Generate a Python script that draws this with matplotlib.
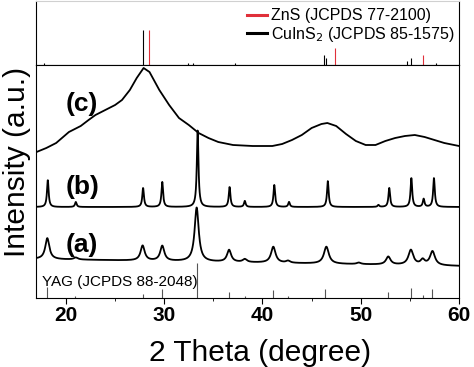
import numpy as np
import matplotlib
matplotlib.use("Agg")
import matplotlib.pyplot as plt
from matplotlib.ticker import MultipleLocator

plt.rcParams['font.family'] = ['Liberation Sans', 'DejaVu Sans']

# reference lines (top panel)
cuins2_pos = [17.8, 27.8, 32.4, 32.9, 37.2, 46.3, 46.45, 54.7, 55.1, 57.7]
cuins2_h = [2, 35, 2, 2, 1.5, 10, 7, 4, 7, 2]
zns_pos = [28.5, 47.4, 56.3]
zns_h = [35, 17, 10]

# YAG reference lines (bottom of main panel)
yag_pos = [18.1, 20.9, 27.8, 29.8, 33.3, 36.6, 38.2, 41.1, 42.6, 46.4, 52.8, 55.1, 56.3, 57.3]
yag_h = [11, 2, 4, 9, 35, 6, 2, 8, 2, 9, 6, 10, 3, 9]

# pattern (a): peaks
a_pos = [18.1, 21.0, 27.8, 29.8, 33.3, 36.6, 38.2, 41.1, 42.6, 46.5, 49.8, 52.8, 55.1, 56.3, 57.3]
a_h = [21, 2, 15, 15, 54, 12, 3, 16, 2, 17, 1.5, 8, 15, 5, 14]
a_w = [0.5, 0.5, 0.5, 0.5, 0.5, 0.5, 0.5, 0.55, 0.5, 0.6, 0.5, 0.55, 0.6, 0.5, 0.6]
a_base = (39, 32)

# pattern (b)
b_pos = [18.15, 21.0, 27.85, 29.8, 33.4, 36.65, 38.2, 41.2, 42.7, 46.65, 51.8, 52.9, 55.15, 56.4, 57.45]
b_h = [27, 5, 19, 25, 77, 20, 6, 22, 5, 26, 2, 19, 29, 8, 29]
b_w = [0.2] * 15
b_base = (91, 91)

# pattern (c): traced points
c_x = [17.0, 18.0, 19.0, 20.3, 21.5, 22.3, 23.0, 24.0, 25.0, 25.7, 26.5, 27.2, 27.9,
       28.5, 29.5, 30.5, 31.5, 32.5, 33.5, 34.5, 35.5, 37.0, 39.0, 41.0, 42.0, 43.0,
       44.0, 45.0, 46.0, 46.6, 47.5, 48.5, 49.5, 50.5, 51.5, 52.5, 53.5, 54.5, 55.5,
       56.5, 57.5, 58.5, 59.5, 60.0]
c_y = [146, 150, 155, 166, 172, 178, 183, 188, 193, 198, 208, 220, 230,
       226, 208, 193, 180, 173, 165, 160, 156, 153, 152, 152, 154, 158,
       163, 170, 174, 175, 172, 164, 157, 153, 153, 157, 160, 162, 163,
       161, 158, 155, 153, 152]

x = np.linspace(17, 60, 2000)


def pattern(pos, h, w, base):
    y = base[0] + (base[1] - base[0]) * (x - 17) / 43
    for p, hh, ww in zip(pos, h, w):
        y = y + hh / (1 + ((x - p) / (ww / 2)) ** 2)
    return y


fig = plt.figure(figsize=(4.74, 3.67), dpi=100)
ax_top = fig.add_axes([0.077, 0.8229, 0.8914, 0.1744])
ax = fig.add_axes([0.077, 0.188, 0.8914, 0.6349])

# top panel
ax_top.vlines(cuins2_pos, 0, cuins2_h, color='black', lw=0.8)
ax_top.vlines(zns_pos, 0, zns_h, color='#e0303a', lw=0.8)
ax_top.plot([], [], color='#e0303a', lw=2.2, label='ZnS (JCPDS 77-2100)')
ax_top.plot([], [], color='black', lw=2.2, label='CuInS$_2$ (JCPDS 85-1575)')
ax_top.legend(loc='upper right', bbox_to_anchor=(1.0, 0.96), frameon=False,
              fontsize=11.5, handlelength=1.3, handletextpad=0.2,
              labelspacing=0.1, borderaxespad=0.1, borderpad=0.2)
ax_top.set_xlim(17, 60)
ax_top.set_ylim(0, 64)
ax_top.set_xticks([])
ax_top.set_yticks([])
ax_top.spines['top'].set_color('#d0d0d0')

# main panel
ax.plot(x, pattern(a_pos, a_h, a_w, a_base), color='black', lw=1.3)
ax.plot(x, pattern(b_pos, b_h, b_w, b_base), color='black', lw=1.3)
ax.plot(c_x, c_y, color='black', lw=1.3)
ax.vlines(yag_pos, 0, yag_h, color='#555555', lw=0.8)

ax.text(20.0, 194, '(c)', fontsize=19, fontweight='bold', va='center')
ax.text(20.0, 111, '(b)', fontsize=19, fontweight='bold', va='center')
ax.text(20.0, 53, '(a)', fontsize=19, fontweight='bold', va='center')
ax.text(17.55, 16, 'YAG (JCPDS 88-2048)', fontsize=11, va='center')

ax.set_xlim(17, 60)
ax.set_ylim(0, 233)
ax.set_yticks([])
ax.xaxis.set_major_locator(MultipleLocator(10))
ax.xaxis.set_minor_locator(MultipleLocator(5))
ax.tick_params(axis='x', which='major', length=4, labelsize=15, pad=2)
ax.tick_params(axis='x', which='minor', length=2)
for lab in ax.get_xticklabels():
    lab.set_fontweight('bold')
ax.set_xlabel('2 Theta (degree)', fontsize=21.5)
ax.xaxis.set_label_coords(0.529, -0.175)
ax.set_ylabel('Intensity (a.u.)', fontsize=21.5)
ax.yaxis.set_label_coords(-0.012, 0.584)

fig.savefig('out.png', dpi=100)
